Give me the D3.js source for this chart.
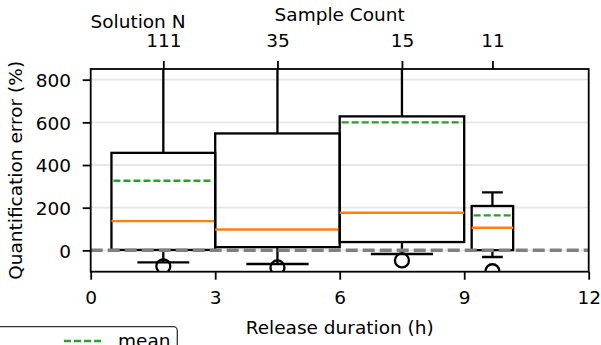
<!DOCTYPE html>
<html>
<head>
<meta charset="utf-8">
<script src="https://cdn.jsdelivr.net/npm/d3@7"></script>
<style>
  body { margin: 0; background: #fff; }
  svg text { font-family: "DejaVu Sans", sans-serif; }
</style>
</head>
<body>
<div id="plot"></div>
<script>
//Set Height and Width Vars;
const w = 601;
const h = 345;
const margin = {left: 90.7, right: 12.3, top: 69, bottom: 73.3};
const fontSize = "18.5px";
const lw = 2.3;

//Chart Data;
const positions = [1.75, 4.5, 7.5, 9.68];
const widths = [2.5, 3, 3, 1];
const counts = [111, 35, 15, 11];
const q1 = [2, 15, 39, 1];
const q3 = [457, 548, 628, 208];
const medians = [137, 98, 176, 106];
const means = [326, 1000, 600, 164];
const whiskerLow = [-56, -64, -17, -31];
const whiskerHigh = [1500, 1500, 1500, 272];
const outliers = [[-75], [-80], [-47], [-98]];
const xTicks = [0, 3, 6, 9, 12];
const yTicks = [0, 200, 400, 600, 800];

//Build box table;
let boxes = positions.map(function(p, i){
  return {pos: p, width: widths[i], q1: q1[i], q3: q3[i], med: medians[i],
          mean: means[i], lo: whiskerLow[i], hi: whiskerHigh[i], fliers: outliers[i]};
});

//Initialize SVG;
const svg = d3.select("#plot")
  .append("svg")
    .attr("width", w)
    .attr("height", h);

const pw = w - margin.left - margin.right;
const ph = h - margin.top - margin.bottom;

//Scales;
let xScale = d3.scaleLinear().domain([0, 12]).range([margin.left, margin.left + pw]);
let yScale = d3.scaleLinear().domain([-100, 850]).range([margin.top + ph, margin.top]);

svg.append("defs").append("clipPath")
    .attr("id", "clip")
  .append("rect")
    .attr("x", margin.left)
    .attr("y", margin.top)
    .attr("width", pw)
    .attr("height", ph);

const plot = svg.append("g").attr("clip-path", "url(#clip)");

//Grid;
plot.selectAll(".grid")
  .data(yTicks)
  .enter()
  .append("line")
    .attr("x1", margin.left)
    .attr("x2", margin.left + pw)
    .attr("y1", d => yScale(d))
    .attr("y2", d => yScale(d))
    .attr("stroke", "#e6e6e6")
    .attr("stroke-width", 1.8);

//Boxes;
const bg = plot.selectAll(".box")
  .data(boxes)
  .enter()
  .append("g");

bg.append("rect")
  .attr("x", d => xScale(d.pos - d.width / 2))
  .attr("y", d => yScale(d.q3))
  .attr("width", d => xScale(d.pos + d.width / 2) - xScale(d.pos - d.width / 2))
  .attr("height", d => yScale(d.q1) - yScale(d.q3))
  .attr("fill", "none")
  .attr("stroke", "#000")
  .attr("stroke-width", lw);

//Whiskers;
bg.append("line")
  .attr("x1", d => xScale(d.pos)).attr("x2", d => xScale(d.pos))
  .attr("y1", d => yScale(d.q3)).attr("y2", d => yScale(d.hi))
  .attr("stroke", "#000").attr("stroke-width", lw);

bg.append("line")
  .attr("x1", d => xScale(d.pos)).attr("x2", d => xScale(d.pos))
  .attr("y1", d => yScale(d.q1)).attr("y2", d => yScale(d.lo))
  .attr("stroke", "#000").attr("stroke-width", lw);

//Caps;
bg.append("line")
  .attr("x1", d => xScale(d.pos - d.width / 4)).attr("x2", d => xScale(d.pos + d.width / 4))
  .attr("y1", d => yScale(d.hi)).attr("y2", d => yScale(d.hi))
  .attr("stroke", "#000").attr("stroke-width", lw);

bg.append("line")
  .attr("x1", d => xScale(d.pos - d.width / 4)).attr("x2", d => xScale(d.pos + d.width / 4))
  .attr("y1", d => yScale(d.lo)).attr("y2", d => yScale(d.lo))
  .attr("stroke", "#000").attr("stroke-width", lw);

//Medians;
bg.append("line")
  .attr("x1", d => xScale(d.pos - d.width / 2)).attr("x2", d => xScale(d.pos + d.width / 2))
  .attr("y1", d => yScale(d.med)).attr("y2", d => yScale(d.med))
  .attr("stroke", "#ff7f0e").attr("stroke-width", 2.4);

//Means;
bg.append("line")
  .attr("x1", d => xScale(d.pos - d.width / 2) + 2).attr("x2", d => xScale(d.pos + d.width / 2) - 2)
  .attr("y1", d => yScale(d.mean)).attr("y2", d => yScale(d.mean))
  .attr("stroke", "#2ca02c").attr("stroke-width", 2.4)
  .attr("stroke-dasharray", "7,3");

//Fliers;
bg.selectAll("circle")
  .data(d => d.fliers.map(v => ({pos: d.pos, v: v})))
  .enter()
  .append("circle")
    .attr("cx", d => xScale(d.pos))
    .attr("cy", d => yScale(d.v))
    .attr("r", 7)
    .attr("fill", "none")
    .attr("stroke", "#000")
    .attr("stroke-width", lw);

//Zero line;
plot.append("line")
  .attr("x1", margin.left).attr("x2", margin.left + pw)
  .attr("y1", yScale(0)).attr("y2", yScale(0))
  .attr("stroke", "#808080").attr("stroke-width", 3.5)
  .attr("stroke-dasharray", "12,5");

//Frame;
svg.append("rect")
  .attr("x", margin.left).attr("y", margin.top)
  .attr("width", pw).attr("height", ph)
  .attr("fill", "none").attr("stroke", "#000").attr("stroke-width", 1.8);

//Axes;
let xAxis = d3.axisBottom(xScale).tickValues(xTicks).tickSize(8).tickSizeOuter(0);
let yAxis = d3.axisLeft(yScale).tickValues(yTicks).tickSize(8).tickSizeOuter(0);
let topAxis = d3.axisTop(xScale).tickValues(positions)
  .tickFormat((d, i) => counts[i]).tickSize(8).tickSizeOuter(0);

function styleAxis(g){
  g.select(".domain").remove();
  g.selectAll("line").attr("stroke", "#000").attr("stroke-width", 1.8);
  g.selectAll("text").attr("font-size", fontSize).attr("fill", "#000")
   .attr("font-family", "DejaVu Sans");
}

svg.append("g")
  .attr("transform", "translate(0," + (margin.top + ph) + ")")
  .call(xAxis)
  .call(styleAxis)
  .selectAll("text").attr("y", 32.6).attr("dy", null);

svg.append("g")
  .attr("transform", "translate(" + margin.left + ",0)")
  .call(yAxis)
  .call(styleAxis)
  .selectAll("text").attr("x", -19.7).attr("dy", "0.36em");

svg.append("g")
  .attr("transform", "translate(0," + margin.top + ")")
  .call(topAxis)
  .call(styleAxis)
  .selectAll("text").attr("y", -22.3).attr("dy", null);

//Labels;
svg.append("text")
  .text("Release duration (h)")
  .attr("x", margin.left + pw / 2)
  .attr("y", 334)
  .attr("text-anchor", "middle")
  .attr("font-size", fontSize);

svg.append("text")
  .text("Quantification error (%)")
  .attr("transform", "translate(22," + (margin.top + ph / 2) + ") rotate(-90)")
  .attr("text-anchor", "middle")
  .attr("font-size", fontSize);

svg.append("text")
  .text("Sample Count")
  .attr("x", margin.left + pw / 2)
  .attr("y", 20.7)
  .attr("text-anchor", "middle")
  .attr("font-size", fontSize);

svg.append("text")
  .text("Solution N")
  .attr("x", 138)
  .attr("y", 28)
  .attr("text-anchor", "middle")
  .attr("font-size", fontSize);

//Legend;
const legend = svg.append("g");
legend.append("rect")
  .attr("x", -20).attr("y", 326.7)
  .attr("width", 197.3).attr("height", 80)
  .attr("rx", 4)
  .attr("fill", "#fff").attr("stroke", "#333").attr("stroke-width", 1.3);

legend.append("line")
  .attr("x1", 64).attr("x2", 101)
  .attr("y1", 341).attr("y2", 341)
  .attr("stroke", "#2ca02c").attr("stroke-width", 2.4)
  .attr("stroke-dasharray", "7,3");

legend.append("text")
  .text("mean")
  .attr("x", 118)
  .attr("y", 347)
  .attr("font-size", fontSize);
</script>
</body>
</html>
